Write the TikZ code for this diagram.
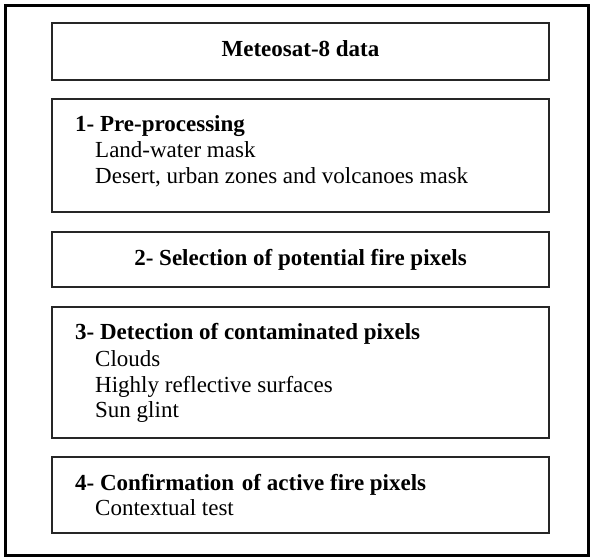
\documentclass[tikz,border=0pt]{standalone}
\usepackage{fontspec}
\setmainfont{Liberation Serif}
\begin{document}
\begin{tikzpicture}[x=1pt,y=-1pt,
  box/.style={draw=black!85, line width=1.6pt, inner sep=0pt},
  frame/.style={draw=black, line width=3pt, inner sep=0pt},
  ttl/.style={anchor=base west, inner sep=0pt, font=\fontsize{23}{26}\selectfont\bfseries},
  ctl/.style={anchor=base, inner sep=0pt, font=\fontsize{23}{26}\selectfont\bfseries},
  itm/.style={anchor=base west, inner sep=0pt, font=\fontsize{23}{26}\selectfont}]
\useasboundingbox (0,0) rectangle (596,558);
\node[frame, minimum width=583pt, minimum height=550pt] (outer) at (296.5,280) {};
% boxes
\node[box, minimum width=497pt, minimum height=57pt] (b0) at (300.5,51.5) {};
\node[box, minimum width=497pt, minimum height=113pt] (b1) at (300.5,155.5) {};
\node[box, minimum width=497pt, minimum height=55pt] (b2) at (300.5,259.5) {};
\node[box, minimum width=497pt, minimum height=131pt] (b3) at (300.5,372.5) {};
\node[box, minimum width=497pt, minimum height=76pt] (b4) at (300.5,495) {};
% texts
\node[ctl] (t0) at (300.5,56) {Meteosat-8 data};
\node[ttl] (t1) at (75,131) {1- Pre-processing};
\node[itm] (t1a) at (95,157) {Land-water mask};
\node[itm] (t1b) at (95,183) {Desert, urban zones and volcanoes mask};
\node[ctl] (t2) at (300.5,265) {2- Selection of potential fire pixels};
\node[ttl] (t3) at (75,339) {3- Detection of contaminated pixels};
\node[itm] (t3a) at (95,366) {Clouds};
\node[itm] (t3b) at (95,392) {Highly reflective surfaces};
\node[itm] (t3c) at (95,417) {Sun glint};
\node[ttl] (t4) at (75,490) {4- Confirmation\hspace{2pt} of active fire pixels};
\node[itm] (t4a) at (95,515) {Contextual test};
\end{tikzpicture}
\end{document}
